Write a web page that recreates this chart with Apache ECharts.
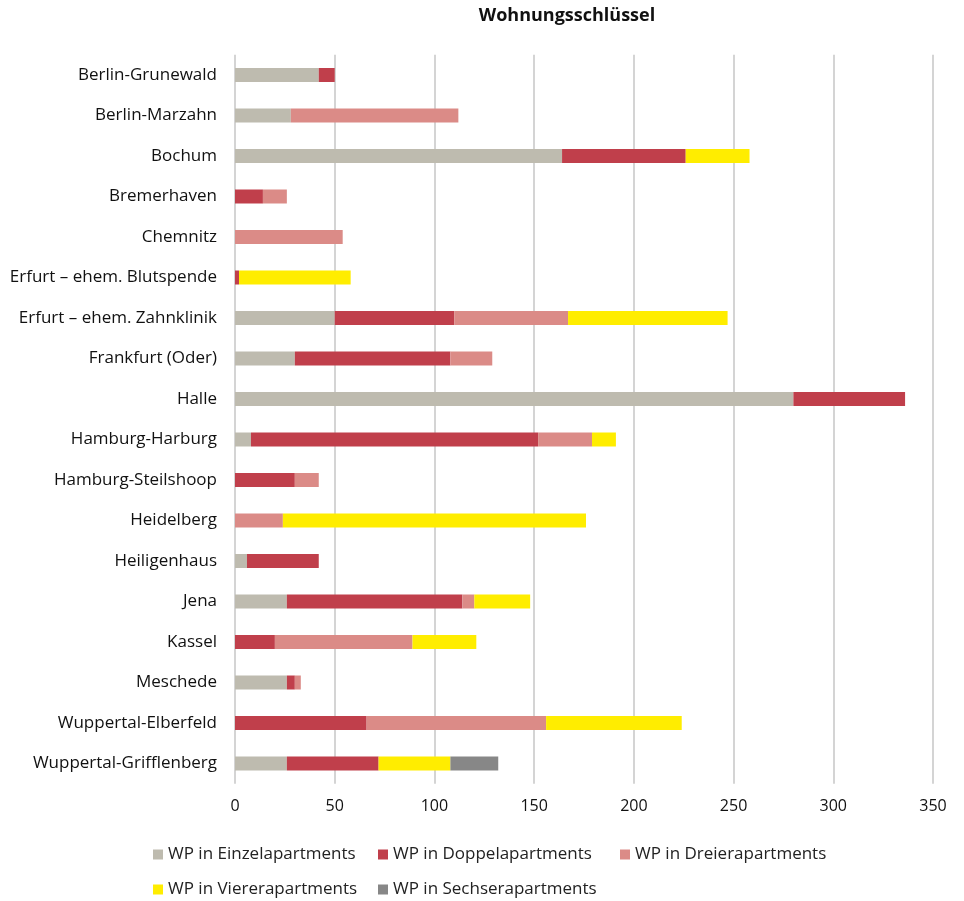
<!DOCTYPE html>
<html>
<head>
<meta charset="utf-8">
<script src="https://cdn.jsdelivr.net/npm/echarts@6/dist/echarts.min.js"></script>
<style>html,body{margin:0;padding:0;background:#fff}#c{width:964px;height:901px}</style>
</head>
<body>
<div id="c"></div>
<script>
const categories = ['Berlin-Grunewald','Berlin-Marzahn','Bochum','Bremerhaven','Chemnitz','Erfurt – ehem. Blutspende','Erfurt – ehem. Zahnklinik','Frankfurt (Oder)','Halle','Hamburg-Harburg','Hamburg-Steilshoop','Heidelberg','Heiligenhaus','Jena','Kassel','Meschede','Wuppertal-Elberfeld','Wuppertal-Grifflenberg'];
const seriesNames = ['WP in Einzelapartments','WP in Doppelapartments','WP in Dreierapartments','WP in Viererapartments','WP in Sechserapartments'];
const einzel  = [42, 28, 164, 0, 0, 0, 50, 30, 280, 8, 0, 0, 6, 26, 0, 26, 0, 26];
const doppel  = [8, 0, 62, 14, 0, 2, 60, 78, 56, 144, 30, 0, 36, 88, 20, 4, 66, 46];
const dreier  = [0, 84, 0, 12, 54, 0, 57, 21, 0, 27, 12, 24, 0, 6, 69, 3, 90, 0];
const vierer  = [0, 0, 32, 0, 0, 56, 80, 0, 0, 12, 0, 152, 0, 28, 32, 0, 68, 36];
const sechser = [0, 0, 0, 0, 0, 0, 0, 0, 0, 0, 0, 0, 0, 0, 0, 0, 0, 24];
const colors = ['#bebbaf','#c03f4b','#db8b87','#ffed00','#878787'];
const values = [einzel, doppel, dreier, vierer, sechser];
const FONT = 'Open Sans';

const legendPos = [[153,846],[378,846],[620,846],[153,881],[378,881]];
const chart = echarts.init(document.getElementById('c'));
chart.setOption({
  animation: false,
  textStyle: {fontFamily: FONT},
  title: {
    text: 'Wohnungsschlüssel', left: 567, top: 7, textAlign: 'center', padding: 0,
    textStyle: {fontFamily: FONT, fontSize: 18, fontWeight: 'bold', color: '#111'}
  },
  legend: seriesNames.map((n, i) => ({
    data: [n], left: legendPos[i][0], top: legendPos[i][1], padding: 0,
    itemWidth: 10, itemHeight: 10, itemGap: 6, icon: 'rect',
    textStyle: {fontFamily: FONT, fontSize: 17, color: '#222'}
  })),
  grid: {left: 235, right: 31, top: 54.75, bottom: 117.25, containLabel: false},
  xAxis: {
    type: 'value', min: 0, max: 350, interval: 50,
    axisLine: {show: false}, axisTick: {show: false},
    axisLabel: {fontFamily: FONT, fontSize: 16, color: '#111', margin: 15},
    splitLine: {lineStyle: {color: '#d4d4d4', width: 2}}
  },
  yAxis: {
    type: 'category', data: categories, inverse: true,
    axisLine: {show: false}, axisTick: {show: false},
    axisLabel: {fontFamily: FONT, fontSize: 17, color: '#111', margin: 18}
  },
  series: seriesNames.map((n, i) => ({
    name: n, type: 'bar', stack: 'total', data: values[i], barWidth: 14,
    itemStyle: {color: colors[i]}
  }))
});
</script>
</body>
</html>
